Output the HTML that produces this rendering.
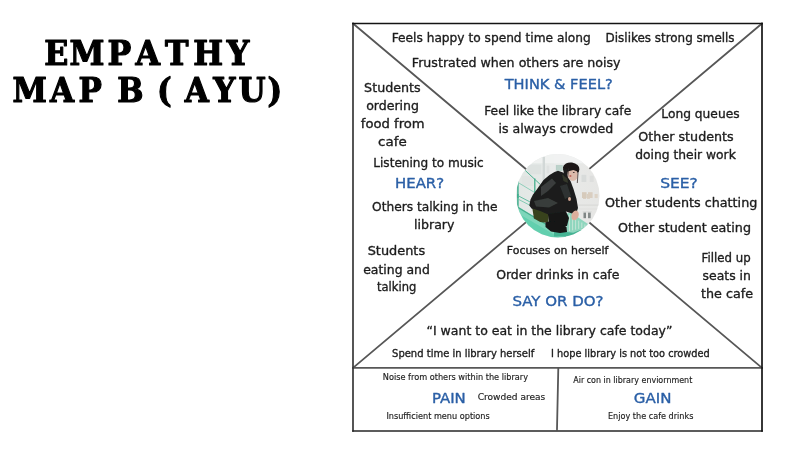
<!DOCTYPE html>
<html lang="en">
<head>
<meta charset="utf-8">
<title>Empathy Map B (Ayu)</title>
<style>
html,body{margin:0;padding:0;background:#fff;}
body{width:800px;height:455px;overflow:hidden;position:relative;}
svg{position:absolute;left:0;top:0;display:block;will-change:transform;}
.b{font-family:'DejaVu Sans', 'Liberation Sans', sans-serif;}
.t{font-family:'DejaVu Serif', 'Liberation Serif', serif;font-weight:bold;}
</style>
</head>
<body>
<svg width="800" height="455" viewBox="0 0 800 455">
<rect width="800" height="455" fill="#fff"/>

<g class="t" fill="#000" stroke="#000" stroke-width="1.20" stroke-linejoin="round">
<text transform="scale(0.9597,1)" x="46.04 72.50 111.98 141.15 172.05 201.40 236.36" y="65.3" font-size="32.9">EMPATHY</text>
<text transform="scale(0.9447,1)" x="13.13 52.83 83.11 110.71 124.22 153.58 166.08 184.07 195.52 225.75 252.57 283.06" y="102.2" font-size="32.9">MAP B ( AYU)</text>
</g>
<g fill="none" stroke="#575757" stroke-width="1.8" stroke-linecap="round">
<line x1="353" y1="23.5" x2="762" y2="367.9"/>
<line x1="762" y1="23.5" x2="353" y2="367.9"/>
<line x1="353" y1="367.9" x2="762" y2="367.9"/>
<line x1="558.3" y1="367.9" x2="557" y2="429.5"/>
</g>
<g fill="none" stroke-width="1.7" stroke-linecap="square">
<line x1="353" y1="23.5" x2="353" y2="431" stroke="#383838"/>
<line x1="353" y1="431" x2="762" y2="431" stroke="#262626"/>
<line x1="353" y1="23.5" x2="762" y2="23.5" stroke="#141414"/>
<line x1="762" y1="23.5" x2="762" y2="431" stroke="#141414"/>
</g>

<defs>
<clipPath id="cp"><circle cx="557.8" cy="195.7" r="41.7"/></clipPath>
<filter id="bl" x="-5%" y="-5%" width="110%" height="110%"><feGaussianBlur stdDeviation="0.5"/></filter>
<linearGradient id="bg" x1="0" y1="0" x2="1" y2="0"><stop offset="0" stop-color="#e1e7e4"/><stop offset="0.45" stop-color="#e8eae9"/><stop offset="1" stop-color="#e6e6e4"/></linearGradient>
</defs>
<g clip-path="url(#cp)">
<rect x="514" y="152" width="88" height="88" fill="url(#bg)"/>
<g filter="url(#bl)">
<rect x="516.0" y="154.0" width="46.0" height="9.2" fill="#f0f2f1"/>
<rect x="554.0" y="154.0" width="46.0" height="9.2" fill="#f1f2f2"/>
<rect x="542.6" y="156.9" width="2.4" height="25.1" fill="#d2d8d7"/>
<rect x="527.6" y="164.6" width="13.7" height="9.7" fill="#dde2e0"/>
<rect x="521.8" y="176.2" width="11.6" height="9.7" fill="#e0e4e2"/>
<rect x="546.7" y="165.6" width="2.6" height="7.7" fill="#dfe2e1"/>
<rect x="555.9" y="165.1" width="6.8" height="5.5" fill="#b4cdc5"/>
<rect x="556.6" y="165.1" width="5.4" height="5.5" fill="#bcd2ca"/>
<rect x="581.5" y="174.8" width="4.8" height="7.2" fill="#d8dbda"/>
<rect x="589.7" y="175.7" width="3.9" height="6.3" fill="#dddedd"/>
<rect x="582.0" y="192.2" width="4.6" height="5.8" fill="#d6cabb"/>
<rect x="588.0" y="192.2" width="4.6" height="5.8" fill="#d9cec0"/>
<rect x="583.0" y="194.0" width="3.1" height="4.8" fill="#d6cabb"/>
<rect x="587.0" y="194.0" width="2.9" height="4.8" fill="#d9cec0"/>
<rect x="594.6" y="194.0" width="3.1" height="4.1" fill="#ddd3c6"/>
<rect x="578.2" y="204.4" width="21.8" height="1.5" fill="#dcdddb"/>
<rect x="578.2" y="208.5" width="21.8" height="1.0" fill="#e0e0de"/>
<rect x="583.5" y="212.4" width="2.5" height="5.8" fill="#7f8685"/>
<rect x="588.0" y="212.4" width="2.7" height="5.8" fill="#858b8a"/>
<rect x="582.6" y="211.4" width="9.1" height="1.0" fill="#d5d6d4"/>
<line x1="525.2" y1="170.4" x2="540.2" y2="184.4" stroke="#4db192" stroke-width="1.00"/>
<line x1="534.8" y1="178.6" x2="534.8" y2="198.0" stroke="#45ae8e" stroke-width="1.30"/>
<line x1="517.9" y1="180.6" x2="517.9" y2="198.0" stroke="#3fae8d" stroke-width="1.50"/>
<line x1="517.9" y1="194.0" x2="517.9" y2="207.5" stroke="#3fae8d" stroke-width="1.50"/>
<line x1="518.4" y1="195.9" x2="530.5" y2="202.2" stroke="#56b799" stroke-width="0.90"/>
<line x1="518.4" y1="199.3" x2="530.5" y2="205.6" stroke="#6cc3a7" stroke-width="0.80"/>
<line x1="518.9" y1="183.0" x2="534.8" y2="192.6" stroke="#6cc3a7" stroke-width="0.70"/>
<polygon points="514.0,204.5 518.0,206.5 566.0,236.0 566.0,240.0 514.0,240.0" fill="#7ed6ba"/>
<polygon points="514.0,211.0 560.0,238.0 514.0,240.0" fill="#62cfae"/>
<line x1="516.0" y1="206.2" x2="566.0" y2="236.2" stroke="#45ad8d" stroke-width="1.10"/>
<polygon points="554.0,230.2 583.0,229.9 583.0,236.5 554.0,236.5" fill="#45b393"/>
<polygon points="566.4,213.8 570.4,212.2 588.0,224.1 583.0,229.0 573.3,232.8 566.4,231.9" fill="#8fd6be"/>
<line x1="569.5" y1="214.8" x2="569.5" y2="231.2" stroke="#c9e6d8" stroke-width="0.90"/>
<line x1="572.6" y1="216.7" x2="572.6" y2="230.4" stroke="#c9e6d8" stroke-width="0.90"/>
<line x1="575.6" y1="218.6" x2="575.6" y2="229.7" stroke="#c9e6d8" stroke-width="0.90"/>
<line x1="578.7" y1="220.6" x2="578.7" y2="228.9" stroke="#c9e6d8" stroke-width="0.90"/>
<line x1="581.8" y1="222.5" x2="581.8" y2="228.1" stroke="#c9e6d8" stroke-width="0.90"/>
<line x1="584.9" y1="224.4" x2="584.9" y2="227.3" stroke="#c9e6d8" stroke-width="0.90"/>
<polygon points="554.5,172.0 558.0,170.8 563.0,172.5 567.5,176.5 570.5,181.0 573.5,189.0 576.5,199.0 578.0,208.0 576.5,212.5 572.0,213.5 566.0,211.5 561.0,217.5 553.0,217.0 546.0,214.8 538.0,211.5 531.5,208.5 529.3,205.5 530.5,199.5 533.0,194.5 537.5,188.5 543.5,180.0 549.5,175.0" fill="#1b1e1d"/>
<polygon points="541.0,187.0 552.0,178.5 556.0,183.0 548.0,191.0 541.0,196.0" fill="#3a3e3c"/>
<polygon points="534.0,201.0 548.0,198.0 558.0,203.0 549.0,207.5 536.0,206.5" fill="#383c3a"/>
<polygon points="560.0,186.0 567.0,184.0 571.0,196.0 565.0,199.0" fill="#2e3231"/>
<polygon points="562.0,174.5 567.0,177.0 568.0,183.0 563.5,181.0" fill="#34392a"/>
<polygon points="532.4,208.5 540.2,210.9 548.9,214.8 548.4,223.0 540.2,222.0 533.9,218.6" fill="#39421f"/>
<polygon points="548.0,214.0 566.0,211.5 569.0,218.0 567.0,226.0 556.0,226.0 549.0,222.0" fill="#171919"/>
<polygon points="545.5,222.5 552.0,220.5 560.0,222.0 566.5,227.0 567.0,232.0 560.0,233.0 551.0,231.5 545.5,227.0" fill="#121313"/>
<ellipse cx="575.1" cy="215.4" rx="3.5" ry="5.0" fill="#dcae9c" transform="rotate(20 575.1 215.4)"/>
<ellipse cx="569.5" cy="199.0" rx="1.5" ry="2.1" fill="#cfa491"/>
<ellipse cx="571.2" cy="168.5" rx="8.3" ry="6.0" fill="#1b1919" transform="rotate(8 571.2 168.5)"/>
<polygon points="563.2,168.5 567.5,168.5 567.0,178.2 564.1,176.2" fill="#1e1b1b"/>
<ellipse cx="572.6" cy="174.5" rx="5.2" ry="6.4" fill="#dbb9aa" transform="rotate(-12 572.6 174.5)"/>
<polygon points="565.4,167.0 578.9,168.5 578.9,171.9 573.3,170.0 567.5,171.6" fill="#1b1919"/>
<ellipse cx="570.4" cy="176.0" rx="1.1" ry="0.7" fill="#b4473f"/>
<ellipse cx="573.8" cy="172.6" rx="0.9" ry="0.5" fill="#3a2a28"/>
<line x1="578.1" y1="171.9" x2="577.3" y2="183.0" stroke="#3c3130" stroke-width="0.80"/>
<line x1="568.5" y1="168.5" x2="567.5" y2="178.2" stroke="#2a2323" stroke-width="0.80"/>
</g>
</g>
<g class="b" stroke-width="0.3" stroke-linejoin="round">
<text x="391.70" y="42.0" font-size="13.0" fill="#1c1c1c" stroke="#1c1c1c" stroke-width="0.36" textLength="199.02" lengthAdjust="spacingAndGlyphs">Feels happy to spend time along</text>
<text x="605.61" y="42.0" font-size="13.0" fill="#1c1c1c" stroke="#1c1c1c" stroke-width="0.36" textLength="128.97" lengthAdjust="spacingAndGlyphs">Dislikes strong smells</text>
<text x="411.84" y="66.9" font-size="13.0" fill="#1c1c1c" stroke="#1c1c1c" stroke-width="0.36" textLength="208.71" lengthAdjust="spacingAndGlyphs">Frustrated when others are noisy</text>
<text x="504.71" y="89.4" font-size="13.6" fill="#2a5fa6" stroke="#2a5fa6" stroke-width="0.36" textLength="108.09" lengthAdjust="spacingAndGlyphs">THINK &amp; FEEL?</text>
<text x="484.25" y="114.7" font-size="13.0" fill="#1c1c1c" stroke="#1c1c1c" stroke-width="0.36" textLength="146.92" lengthAdjust="spacingAndGlyphs">Feel like the library cafe</text>
<text x="498.51" y="133.0" font-size="13.0" fill="#1c1c1c" stroke="#1c1c1c" stroke-width="0.36" textLength="114.74" lengthAdjust="spacingAndGlyphs">is always crowded</text>
<text x="661.36" y="118.3" font-size="13.0" fill="#1c1c1c" stroke="#1c1c1c" stroke-width="0.36" textLength="78.17" lengthAdjust="spacingAndGlyphs">Long queues</text>
<text x="638.35" y="141.4" font-size="13.0" fill="#1c1c1c" stroke="#1c1c1c" stroke-width="0.36" textLength="95.36" lengthAdjust="spacingAndGlyphs">Other students</text>
<text x="635.27" y="158.9" font-size="13.0" fill="#1c1c1c" stroke="#1c1c1c" stroke-width="0.36" textLength="100.50" lengthAdjust="spacingAndGlyphs">doing their work</text>
<text x="660.19" y="188.2" font-size="13.6" fill="#2a5fa6" stroke="#2a5fa6" stroke-width="0.36" textLength="37.64" lengthAdjust="spacingAndGlyphs">SEE?</text>
<text x="605.04" y="207.4" font-size="13.0" fill="#1c1c1c" stroke="#1c1c1c" stroke-width="0.36" textLength="152.30" lengthAdjust="spacingAndGlyphs">Other students chatting</text>
<text x="618.04" y="232.1" font-size="13.0" fill="#1c1c1c" stroke="#1c1c1c" stroke-width="0.36" textLength="132.94" lengthAdjust="spacingAndGlyphs">Other student eating</text>
<text x="701.61" y="261.9" font-size="13.0" fill="#1c1c1c" stroke="#1c1c1c" stroke-width="0.36" textLength="49.08" lengthAdjust="spacingAndGlyphs">Filled up</text>
<text x="702.55" y="280.2" font-size="13.0" fill="#1c1c1c" stroke="#1c1c1c" stroke-width="0.36" textLength="48.33" lengthAdjust="spacingAndGlyphs">seats in</text>
<text x="701.05" y="298.3" font-size="13.0" fill="#1c1c1c" stroke="#1c1c1c" stroke-width="0.36" textLength="52.04" lengthAdjust="spacingAndGlyphs">the cafe</text>
<text x="364.08" y="91.8" font-size="13.0" fill="#1c1c1c" stroke="#1c1c1c" stroke-width="0.36" textLength="56.65" lengthAdjust="spacingAndGlyphs">Students</text>
<text x="366.15" y="110.1" font-size="13.0" fill="#1c1c1c" stroke="#1c1c1c" stroke-width="0.36" textLength="52.90" lengthAdjust="spacingAndGlyphs">ordering</text>
<text x="360.76" y="128.4" font-size="13.0" fill="#1c1c1c" stroke="#1c1c1c" stroke-width="0.36" textLength="63.92" lengthAdjust="spacingAndGlyphs">food from</text>
<text x="378.00" y="146.4" font-size="13.0" fill="#1c1c1c" stroke="#1c1c1c" stroke-width="0.36" textLength="28.69" lengthAdjust="spacingAndGlyphs">cafe</text>
<text x="373.28" y="167.2" font-size="13.0" fill="#1c1c1c" stroke="#1c1c1c" stroke-width="0.36" textLength="110.48" lengthAdjust="spacingAndGlyphs">Listening to music</text>
<text x="395.07" y="188.1" font-size="13.6" fill="#2a5fa6" stroke="#2a5fa6" stroke-width="0.36" textLength="49.05" lengthAdjust="spacingAndGlyphs">HEAR?</text>
<text x="372.09" y="211.4" font-size="13.0" fill="#1c1c1c" stroke="#1c1c1c" stroke-width="0.36" textLength="125.35" lengthAdjust="spacingAndGlyphs">Others talking in the</text>
<text x="414.06" y="228.9" font-size="13.0" fill="#1c1c1c" stroke="#1c1c1c" stroke-width="0.36" textLength="40.39" lengthAdjust="spacingAndGlyphs">library</text>
<text x="367.69" y="255.2" font-size="13.0" fill="#1c1c1c" stroke="#1c1c1c" stroke-width="0.36" textLength="57.43" lengthAdjust="spacingAndGlyphs">Students</text>
<text x="363.23" y="273.9" font-size="13.0" fill="#1c1c1c" stroke="#1c1c1c" stroke-width="0.36" textLength="66.59" lengthAdjust="spacingAndGlyphs">eating and</text>
<text x="376.96" y="291.4" font-size="13.0" fill="#1c1c1c" stroke="#1c1c1c" stroke-width="0.36" textLength="39.31" lengthAdjust="spacingAndGlyphs">talking</text>
<text x="506.80" y="254.3" font-size="11.0" fill="#1c1c1c" stroke="#1c1c1c" stroke-width="0.36" textLength="101.66" lengthAdjust="spacingAndGlyphs">Focuses on herself</text>
<text x="496.18" y="278.9" font-size="13.0" fill="#1c1c1c" stroke="#1c1c1c" stroke-width="0.36" textLength="123.19" lengthAdjust="spacingAndGlyphs">Order drinks in cafe</text>
<text x="512.41" y="305.5" font-size="13.6" fill="#2a5fa6" stroke="#2a5fa6" stroke-width="0.36" textLength="91.18" lengthAdjust="spacingAndGlyphs">SAY OR DO?</text>
<text x="426.49" y="335.3" font-size="13.0" fill="#1c1c1c" stroke="#1c1c1c" stroke-width="0.36" textLength="245.93" lengthAdjust="spacingAndGlyphs">“I want to eat in the library cafe today”</text>
<text x="392.06" y="356.8" font-size="11.0" fill="#1c1c1c" stroke="#1c1c1c" stroke-width="0.36" textLength="142.21" lengthAdjust="spacingAndGlyphs">Spend time in library herself</text>
<text x="551.02" y="356.8" font-size="11.0" fill="#1c1c1c" stroke="#1c1c1c" stroke-width="0.36" textLength="158.79" lengthAdjust="spacingAndGlyphs">I hope library is not too crowded</text>
<text x="382.82" y="379.9" font-size="8.2" fill="#1c1c1c" stroke="#1c1c1c" stroke-width="0.15" textLength="145.24" lengthAdjust="spacingAndGlyphs">Noise from others within the library</text>
<text x="431.91" y="402.5" font-size="13.6" fill="#2a5fa6" stroke="#2a5fa6" stroke-width="0.36" textLength="33.85" lengthAdjust="spacingAndGlyphs">PAIN</text>
<text x="477.72" y="400.4" font-size="8.6" fill="#1c1c1c" stroke="#1c1c1c" stroke-width="0.15" textLength="67.54" lengthAdjust="spacingAndGlyphs">Crowded areas</text>
<text x="386.41" y="418.8" font-size="8.2" fill="#1c1c1c" stroke="#1c1c1c" stroke-width="0.15" textLength="103.35" lengthAdjust="spacingAndGlyphs">Insufficient menu options</text>
<text x="573.23" y="382.9" font-size="8.2" fill="#1c1c1c" stroke="#1c1c1c" stroke-width="0.15" textLength="119.05" lengthAdjust="spacingAndGlyphs">Air con in library enviornment</text>
<text x="633.79" y="402.7" font-size="13.6" fill="#2a5fa6" stroke="#2a5fa6" stroke-width="0.36" textLength="37.60" lengthAdjust="spacingAndGlyphs">GAIN</text>
<text x="607.97" y="418.8" font-size="8.2" fill="#1c1c1c" stroke="#1c1c1c" stroke-width="0.15" textLength="85.40" lengthAdjust="spacingAndGlyphs">Enjoy the cafe drinks</text>
</g>
</svg>
</body>
</html>
